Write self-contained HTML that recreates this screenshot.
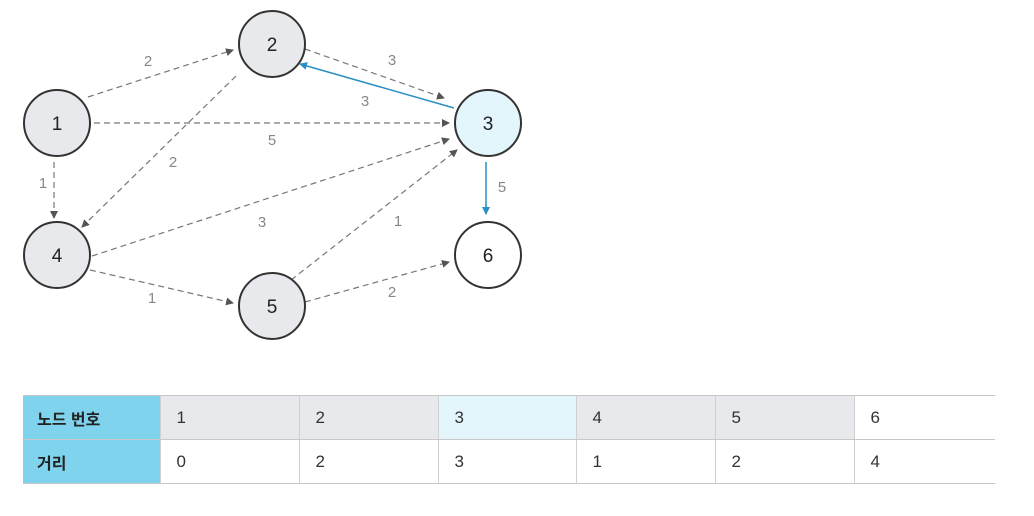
<!DOCTYPE html>
<html><head><meta charset="utf-8"><style>
body{margin:0;width:1034px;height:516px;background:#fff;overflow:hidden;font-family:"Liberation Sans","Noto Sans CJK KR",sans-serif}
table{position:absolute;left:23px;top:395px;border-collapse:collapse;font-size:17px;color:#333}
td{height:44px;border-top:1px solid #c8c8c8;border-bottom:1px solid #c8c8c8;border-left:1px solid #d0d0d0;padding:0 0 0 16px;box-sizing:border-box}
td.h{background:#7fd3ed;font-weight:bold;color:#222;width:137px;border-left:none;padding-left:14px;font-size:16px}
tr.r1 td{background:#e8e9ec}
tr.r1 td.c{background:#e2f6fc}
tr.r1 td.w{background:#fff}
tr.r1 td.h{background:#7fd3ed}
</style></head><body>
<svg width="1034" height="390" style="position:absolute;left:0;top:0" font-family="Liberation Sans, sans-serif">
<defs>
<marker id="g" markerWidth="8" markerHeight="8" refX="7" refY="4" orient="auto" markerUnits="userSpaceOnUse"><path d="M0,0L8,4L0,8z" fill="#555"/></marker>
<marker id="b" markerWidth="8" markerHeight="8" refX="7" refY="4" orient="auto" markerUnits="userSpaceOnUse"><path d="M0,0L8,4L0,8z" fill="#2a8fc4"/></marker>
</defs>
<g stroke="#777" stroke-width="1.2" stroke-dasharray="6,4" fill="none" marker-end="url(#g)">
<line x1="88" y1="97" x2="233" y2="50"/>
<line x1="305" y1="49" x2="444" y2="98"/>
<line x1="94" y1="123" x2="449" y2="123"/>
<line x1="236" y1="76" x2="82" y2="227"/>
<line x1="54" y1="162" x2="54" y2="218"/>
<line x1="92" y1="256" x2="449" y2="139"/>
<line x1="291" y1="280" x2="457" y2="150"/>
<line x1="90" y1="270" x2="233" y2="303"/>
<line x1="305" y1="302" x2="449" y2="262"/>
</g>
<line x1="454" y1="108" x2="300" y2="64" stroke="#2a8fc4" stroke-width="1.5" marker-end="url(#b)"/>
<line x1="486" y1="162" x2="486" y2="214" stroke="#2a8fc4" stroke-width="1.5" marker-end="url(#b)"/>
<g stroke="#333" stroke-width="2">
<circle cx="57" cy="123" r="33" fill="#e8e9ec"/>
<circle cx="272" cy="44" r="33" fill="#e8e9ec"/>
<circle cx="488" cy="123" r="33" fill="#e2f6fc"/>
<circle cx="57" cy="255" r="33" fill="#e8e9ec"/>
<circle cx="272" cy="306" r="33" fill="#e8e9ec"/>
<circle cx="488" cy="255" r="33" fill="#fff"/>
</g>
<g font-size="19" fill="#222" text-anchor="middle">
<text x="57" y="130">1</text><text x="272" y="51">2</text><text x="488" y="130">3</text>
<text x="57" y="262">4</text><text x="272" y="313">5</text><text x="488" y="262">6</text>
</g>
<g font-size="15" fill="#888" text-anchor="middle">
<text x="148" y="66">2</text><text x="392" y="65">3</text><text x="365" y="106">3</text>
<text x="272" y="145">5</text><text x="173" y="167">2</text><text x="43" y="188">1</text>
<text x="502" y="192">5</text><text x="262" y="227">3</text><text x="398" y="226">1</text>
<text x="152" y="303">1</text><text x="392" y="297">2</text>
</g>
</svg>
<table>
<tr class="r1"><td class="h">노드 번호</td><td style="width:139px">1</td><td style="width:139px">2</td><td class="c" style="width:138px">3</td><td style="width:139px">4</td><td style="width:139px">5</td><td class="w" style="width:141px">6</td></tr>
<tr><td class="h">거리</td><td>0</td><td>2</td><td>3</td><td>1</td><td>2</td><td>4</td></tr>
</table>
</body></html>
